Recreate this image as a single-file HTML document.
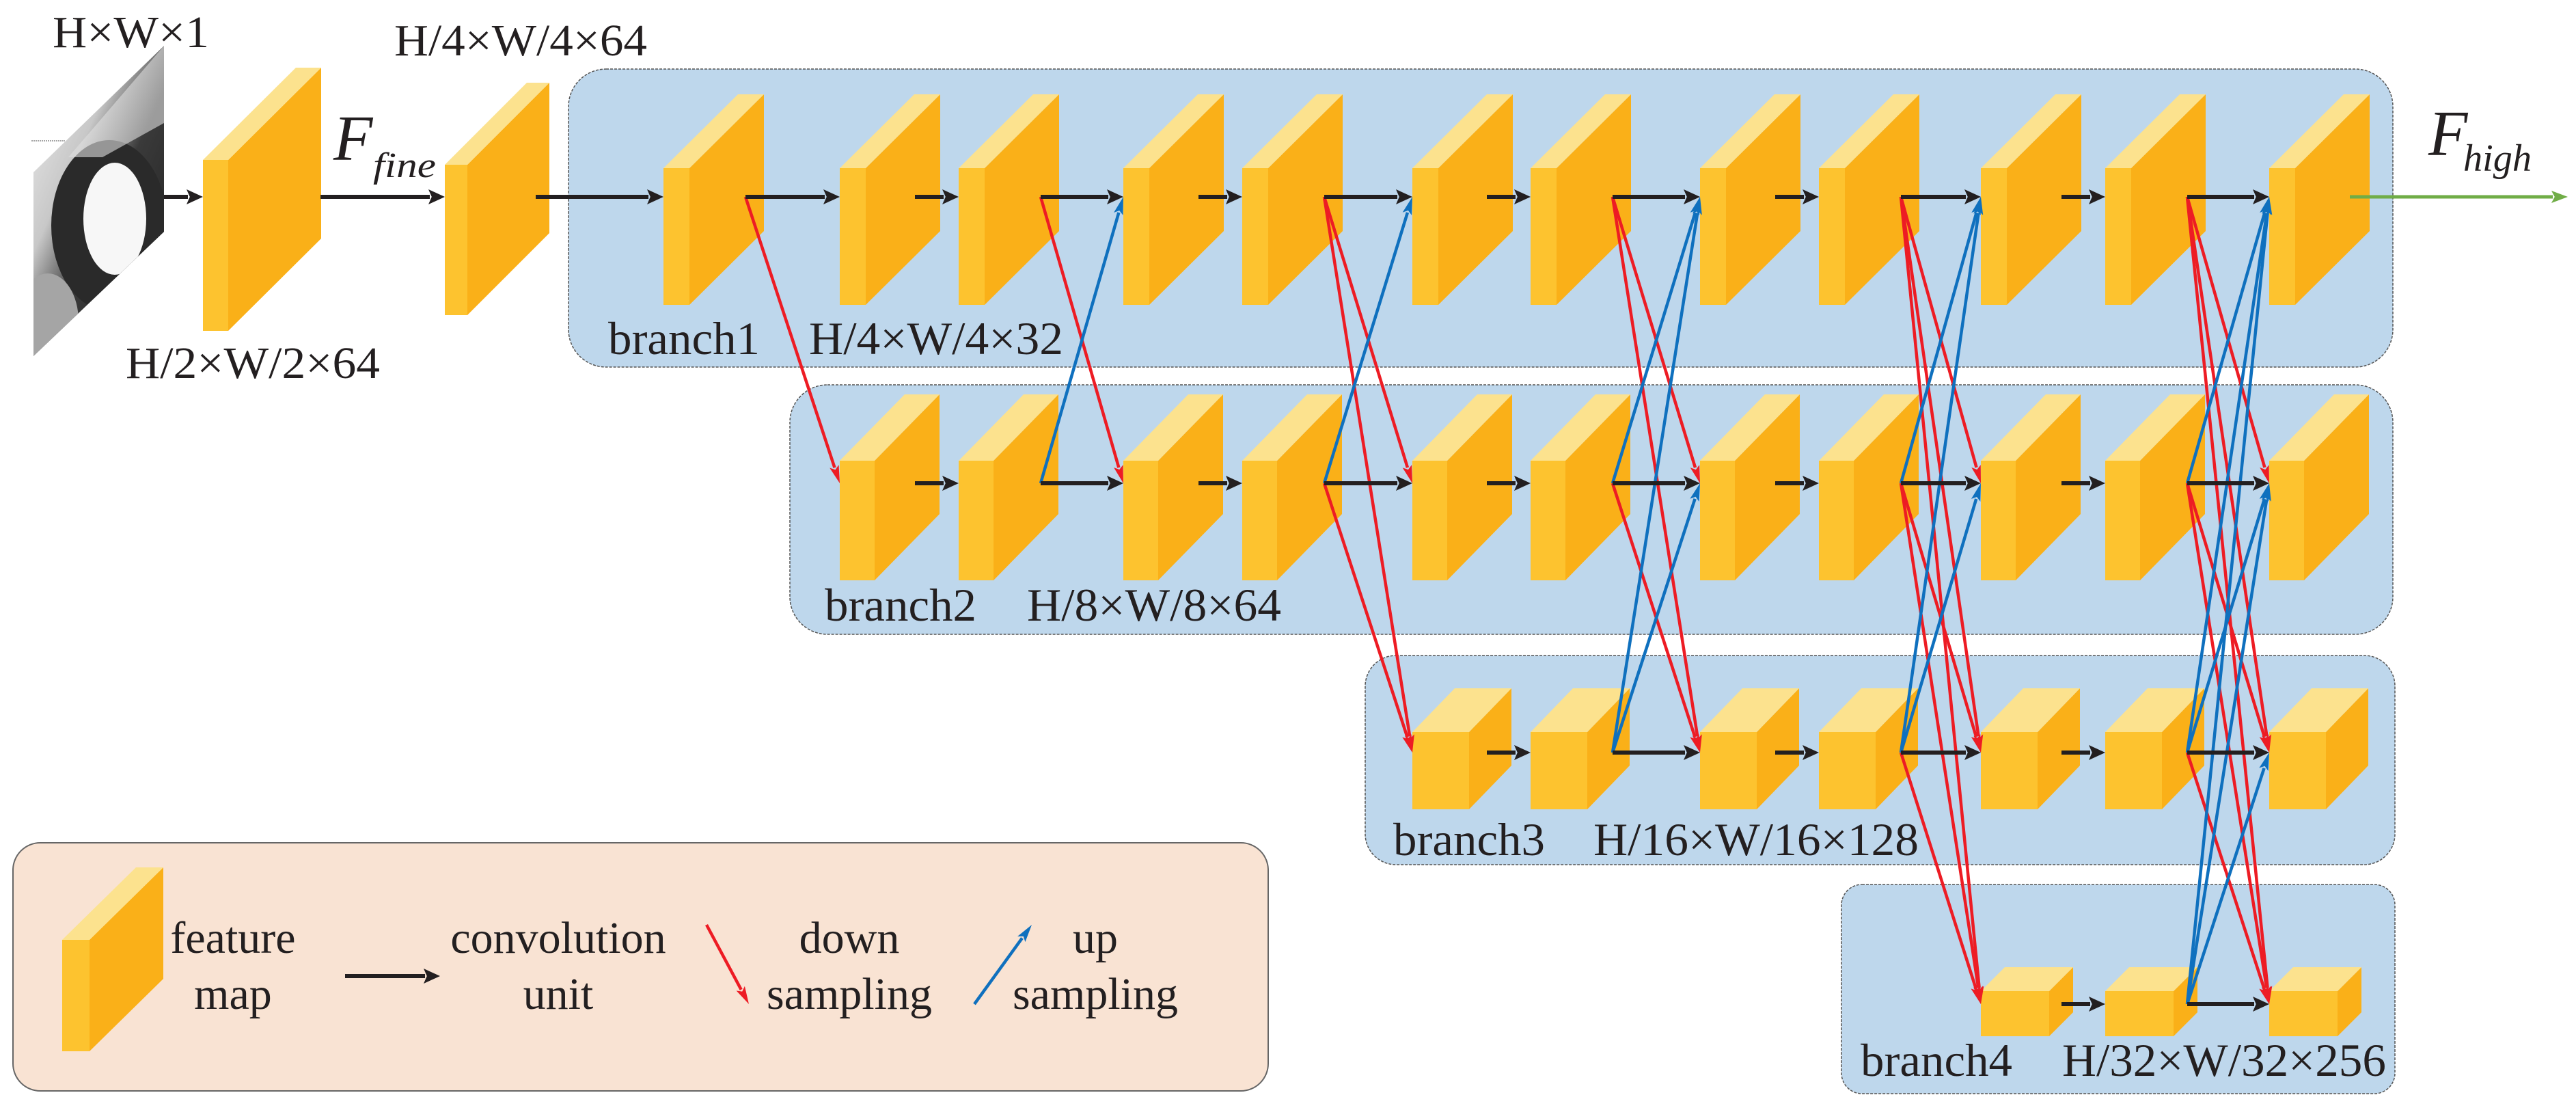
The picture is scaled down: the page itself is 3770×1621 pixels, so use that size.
<!DOCTYPE html>
<html><head><meta charset="utf-8"><style>
html,body{margin:0;padding:0;background:#fff}
svg{display:block}
svg text{font-family:"Liberation Serif","DejaVu Serif","Times New Roman",Times,serif;fill:#231F20}
</style></head><body>
<svg id="s" xmlns="http://www.w3.org/2000/svg" width="3770" height="1621" viewBox="0 0 3770 1621">
<defs>
<clipPath id="imgclip"><polygon points="49,252 240,67 240,339 49,521"/></clipPath>
<linearGradient id="g1" x1="0" y1="0" x2="1" y2="1">
<stop offset="0" stop-color="#f4f4f4"/><stop offset="0.35" stop-color="#c8c8c8"/><stop offset="0.55" stop-color="#3a3a3a"/><stop offset="1" stop-color="#1a1a1a"/>
</linearGradient>
</defs>
<rect x="832" y="101" width="2670" height="436" rx="55" fill="#BED7EC" stroke="#555" stroke-width="1.5" stroke-dasharray="4,2"/>
<rect x="1156" y="563" width="2346" height="365" rx="55" fill="#BED7EC" stroke="#555" stroke-width="1.5" stroke-dasharray="4,2"/>
<rect x="1998" y="959" width="1507" height="306" rx="45" fill="#BED7EC" stroke="#555" stroke-width="1.5" stroke-dasharray="4,2"/>
<rect x="2695" y="1294" width="810" height="306" rx="30" fill="#BED7EC" stroke="#555" stroke-width="1.5" stroke-dasharray="4,2"/>
<rect x="19" y="1233" width="1837" height="363" rx="40" fill="#F9E3D3" stroke="#666" stroke-width="2"/>
<g clip-path="url(#imgclip)">
<rect x="40" y="60" width="210" height="470" fill="url(#g1)"/>
<ellipse cx="160" cy="330" rx="85" ry="125" fill="#2a2a2a"/>
<ellipse cx="168" cy="320" rx="46" ry="82" fill="#f7f7f7"/>
<ellipse cx="70" cy="470" rx="45" ry="70" fill="#a5a5a5"/>
<polygon points="240,67 240,180 150,230 100,230" fill="#e0e0e0" opacity="0.6"/>
</g>
<line x1="46" y1="206" x2="95" y2="206" stroke="#888" stroke-width="1.5" stroke-dasharray="2,1"/>
<g id="blocks"></g>
<g id="lines"></g>
<text x="77" y="69" font-size="66" textLength="229" lengthAdjust="spacingAndGlyphs">H×W×1</text>
<text x="577" y="81" font-size="66" textLength="370" lengthAdjust="spacingAndGlyphs">H/4×W/4×64</text>
<text x="184" y="553" font-size="66" textLength="372" lengthAdjust="spacingAndGlyphs">H/2×W/2×64</text>
<text x="488" y="234" font-size="94" font-style="italic">F</text>
<text x="546" y="259" font-size="52" font-style="italic" textLength="92" lengthAdjust="spacingAndGlyphs">fine</text>
<text x="3554" y="227" font-size="94" font-style="italic">F</text>
<text x="3605" y="250" font-size="56" font-style="italic" textLength="100" lengthAdjust="spacingAndGlyphs">high</text>
<text x="890" y="518" font-size="68" textLength="222" lengthAdjust="spacingAndGlyphs">branch1</text>
<text x="1184" y="518" font-size="68" textLength="372" lengthAdjust="spacingAndGlyphs">H/4×W/4×32</text>
<text x="1207" y="908" font-size="68" textLength="222" lengthAdjust="spacingAndGlyphs">branch2</text>
<text x="1503" y="908" font-size="68" textLength="372" lengthAdjust="spacingAndGlyphs">H/8×W/8×64</text>
<text x="2039" y="1251" font-size="68" textLength="222" lengthAdjust="spacingAndGlyphs">branch3</text>
<text x="2332" y="1251" font-size="68" textLength="476" lengthAdjust="spacingAndGlyphs">H/16×W/16×128</text>
<text x="2723" y="1574" font-size="68" textLength="222" lengthAdjust="spacingAndGlyphs">branch4</text>
<text x="3018" y="1574" font-size="68" textLength="474" lengthAdjust="spacingAndGlyphs">H/32×W/32×256</text>
<text x="341" y="1394" font-size="66" text-anchor="middle">feature</text>
<text x="341" y="1476" font-size="66" text-anchor="middle">map</text>
<text x="817" y="1394" font-size="66" text-anchor="middle">convolution</text>
<text x="817" y="1476" font-size="66" text-anchor="middle">unit</text>
<text x="1243" y="1394" font-size="66" text-anchor="middle">down</text>
<text x="1243" y="1476" font-size="66" text-anchor="middle">sampling</text>
<text x="1603" y="1394" font-size="66" text-anchor="middle">up</text>
<text x="1603" y="1476" font-size="66" text-anchor="middle">sampling</text>
</svg>
<script>
(function(){
var NS="http://www.w3.org/2000/svg";
var B=document.getElementById("blocks"),L=document.getElementById("lines");
function el(p,tag,a){var e=document.createElementNS(NS,tag);for(var k in a)e.setAttribute(k,a[k]);p.appendChild(e);return e;}
function block(x,ft,fw,dx,dy,h){
 el(B,"rect",{x:x,y:ft,width:fw,height:h,fill:"#FDC32F"});
 el(B,"polygon",{points:[x+fw,ft,x+fw+dx,ft-dy,x+fw+dx,ft-dy+h,x+fw,ft+h].join(" "),fill:"#FAB018"});
 el(B,"polygon",{points:[x,ft,x+fw,ft,x+fw+dx,ft-dy,x+dx,ft-dy].join(" "),fill:"#FCE28E"});
}
function arrow(x1,y1,x2,y2,c,w,hl,hw){
 var dx=x2-x1,dy=y2-y1,d=Math.sqrt(dx*dx+dy*dy),ux=dx/d,uy=dy/d;
 var bx=x2-ux*hl,by=y2-uy*hl;
 el(L,"line",{x1:x1,y1:y1,x2:bx+ux*2,y2:by+uy*2,stroke:c,"stroke-width":w});
 el(L,"polygon",{points:[x2,y2,bx-uy*hw/2,by+ux*hw/2,bx+ux*hl*0.2,by+uy*hl*0.2,bx+uy*hw/2,by-ux*hw/2].join(" "),fill:c});
}
var R={1:{y:288,fw:38,dx:109,dy:108,h:200,ft:246},2:{y:707,fw:51,dx:95,dy:97,h:175,ft:674},3:{y:1101,fw:83,dx:62,dy:64,h:113,ft:1071},4:{y:1469,fw:100,dx:35,dy:35,h:66,ft:1450}};
var cols=[971,1229,1403,1644,1818,2067,2240,2488,2662,2899,3081,3321];
var first={1:0,2:1,3:5,4:9};
function has(r,i){return i>=first[r];}
block(297,234,37,136,135,250);
block(651,241,33,120,120,220);
block(91,1375,40,108,106,163);
for(var r=1;r<=4;r++){var g=R[r];for(var i=first[r];i<cols.length;i++)block(cols[i],g.ft,g.fw,g.dx,g.dy,g.h);}
var K="#231F20",RD="#ED1C24",BL="#0F70BE";
arrow(240,288,297,288,K,6,24,22);
arrow(469,288,651,288,K,6,24,22);
arrow(784,288,971,288,K,6,24,22);
for(var i=0;i<cols.length-1;i+=2){
 for(var s=1;s<=4;s++){if(!has(s,i))continue;
  for(var t=1;t<=4;t++){if(t==s||!has(t,i+1))continue;
   arrow(cols[i]+120,R[s].y,cols[i+1],R[t].y,t>s?RD:BL,4.5,26,14);
  }}
}
for(var r=1;r<=4;r++){var y=R[r].y;
 for(var i=first[r];i<cols.length-1;i++){
  var x1=(i%2==0)?cols[i]+120:cols[i+1]-64;
  arrow(x1,y,cols[i+1],y,K,6,24,22);
 }}
arrow(3439,288,3758,288,"#70AD47",5,24,18);
arrow(505,1428,644,1428,K,6,24,22);
arrow(1034,1353,1096,1469,RD,4.5,26,14);
arrow(1426,1469,1510,1353,BL,4.5,26,14);
})();
</script>
</body></html>
